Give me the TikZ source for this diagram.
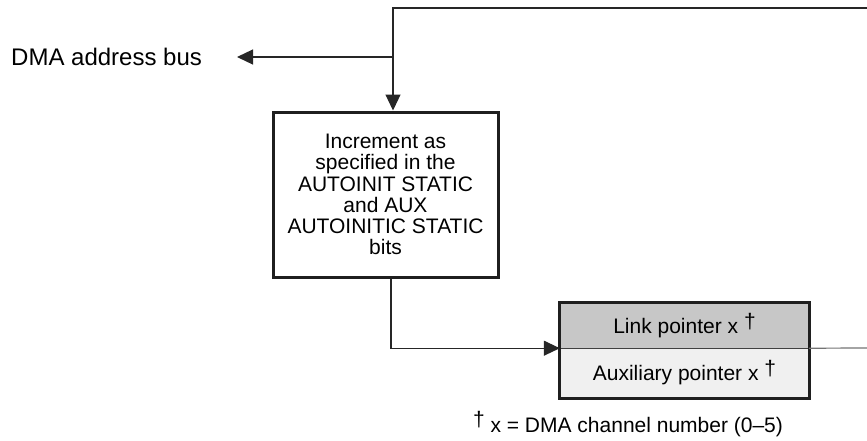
\documentclass[tikz,border=0pt]{standalone}
\usepackage{fontspec}
\setmainfont{Liberation Sans}
\usetikzlibrary{arrows.meta}
\begin{document}
\begin{tikzpicture}[x=1pt,y=-1pt,
  conn/.style={line width=1.2pt, draw=black!85},
  arr/.style={conn,-{Triangle[length=16pt,width=15pt]}},
  txt/.style={font=\fontsize{21}{21}\selectfont, inner sep=0pt},
  thickbox/.style={draw=black!88, line width=3pt}]
\useasboundingbox (0,0) rectangle (867,440);
% nodes
\node[anchor=west, inner sep=0pt, font=\fontsize{24}{24}\selectfont] (dma) at (11,57) {DMA address bus};
\node[thickbox, minimum width=225pt, minimum height=165pt, inner sep=0pt,
      align=center, font=\fontsize{21}{21.2}\selectfont] (inc) at (385.5,194.5)
      {Increment as\\specified in the\\AUTOINIT STATIC\\and AUX\\AUTOINITIC STATIC\\bits};
\node[fill=black!22, minimum width=249pt, minimum height=45pt, inner sep=0pt, txt] (link) at (684.5,325.5)
      {Link pointer x \raisebox{5pt}{†}};
\node[fill=black!6, minimum width=249pt, minimum height=50pt, inner sep=0pt, txt] (aux) at (684.5,373)
      {Auxiliary pointer x \raisebox{5pt}{†}};
\draw[draw=black!75, line width=1.3pt] (link.south west) -- (link.south east);
\draw[thickbox] (link.north west) rectangle (aux.south east);
\node[txt, anchor=base] (foot) at (628,432) {\raisebox{6pt}{†} x = DMA channel number (0–5)};
% coordinates
\coordinate (tr) at (867,8);
\coordinate (tl) at (393,8);
\coordinate (j) at (393,57);
\coordinate (dmaend) at (237,57);
\coordinate (bx) at (391,0);
\coordinate (rr) at (867,348);
% connectors
\draw[conn] (tr) -- (tl) -- (j);
\draw[arr] (j) -- (tl |- inc.north);
\draw[arr] (j) -- (dmaend);
\draw[arr] (bx |- inc.south) -- (bx |- link.south) -- (link.south west);
\draw[line width=1.2pt, draw=black!55] (link.south east) -- (rr);
\end{tikzpicture}
\end{document}
